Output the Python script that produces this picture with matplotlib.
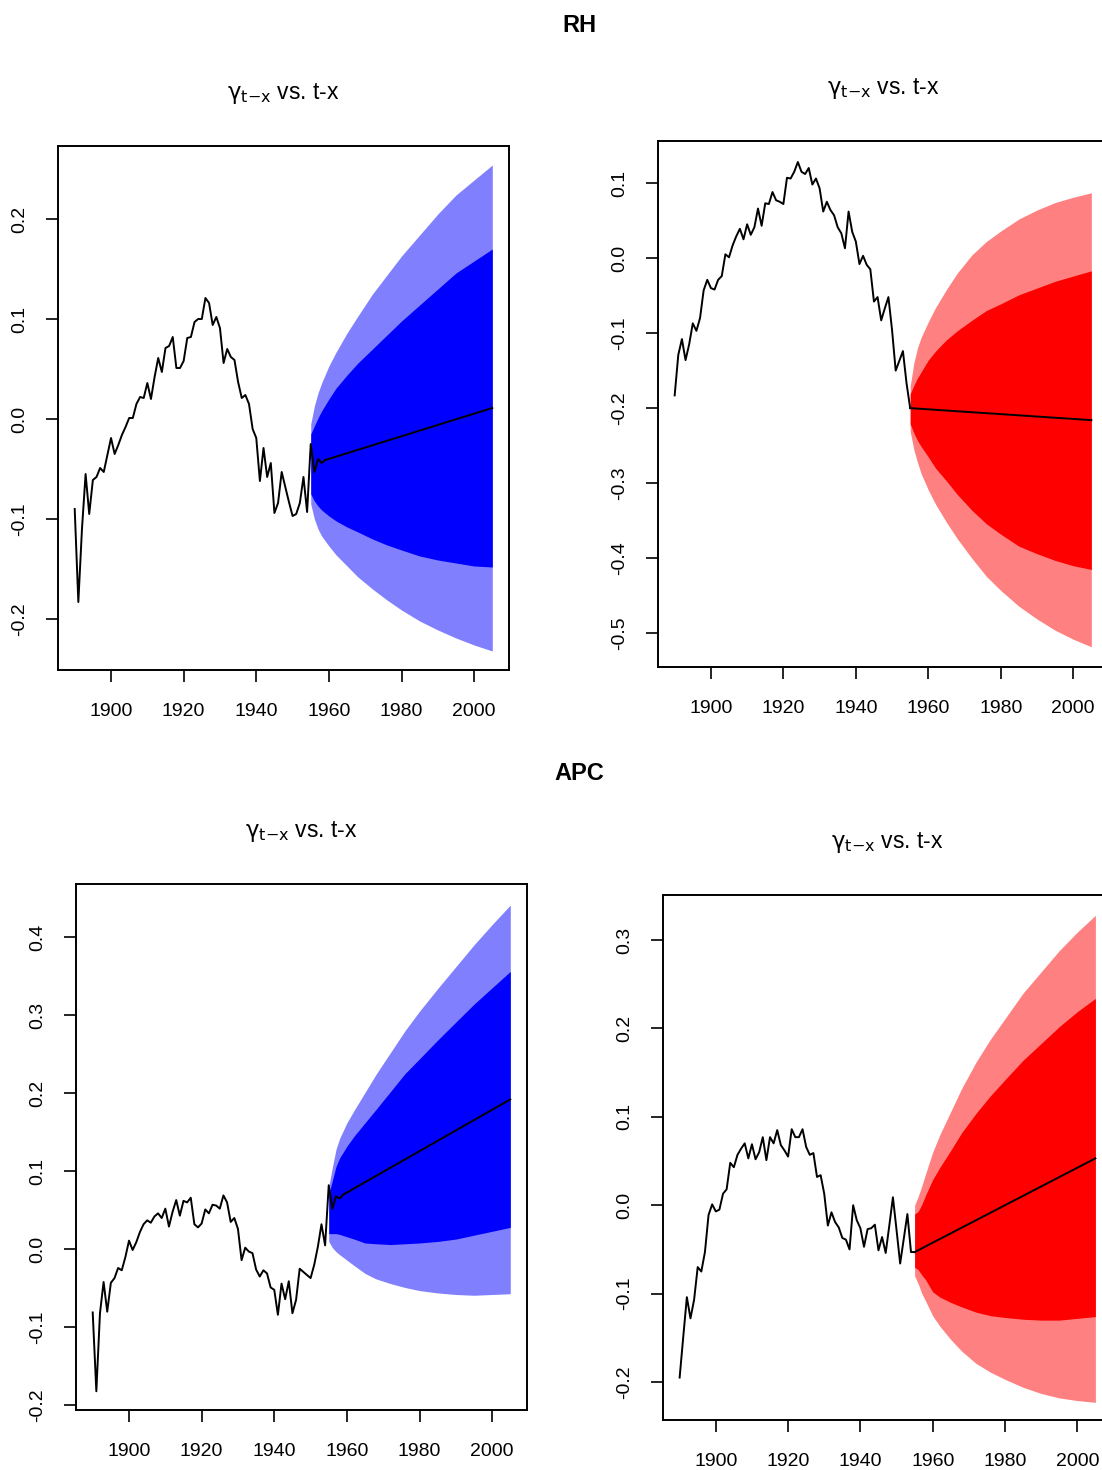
import numpy as np
import matplotlib
matplotlib.use("Agg")
import matplotlib.pyplot as plt

plt.rcParams["font.family"] = ["Liberation Sans", "DejaVu Sans"]
plt.rcParams["mathtext.fontset"] = "custom"
plt.rcParams["mathtext.rm"] = "DejaVu Sans"
plt.rcParams["mathtext.it"] = "DejaVu Sans"

W, H = 1102, 1470

# ---- RH, left panel (blue) ----
rh_l_start = 1890
rh_l_hist = [-0.090, -0.183, -0.110, -0.055, -0.095, -0.061, -0.058, -0.049, -0.053, -0.036,
             -0.019, -0.035, -0.026, -0.016, -0.008, 0.001, 0.001, 0.015, 0.022, 0.021,
             0.036, 0.020, 0.042, 0.061, 0.047, 0.071, 0.073, 0.082, 0.051, 0.051,
             0.058, 0.081, 0.082, 0.097, 0.100, 0.100, 0.121, 0.116, 0.094, 0.102,
             0.091, 0.056, 0.070, 0.062, 0.059, 0.037, 0.021, 0.024, 0.015, -0.010,
             -0.019, -0.062, -0.029, -0.058, -0.044, -0.094, -0.084, -0.053, -0.068, -0.083,
             -0.097, -0.095, -0.084, -0.058, -0.093, -0.025, -0.053, -0.040, -0.044, -0.041]
rh_l_fc_years = [1959, 2005]
rh_l_fc = [-0.041, 0.011]
rh_l_fan_years = [1955, 1956, 1957, 1958, 1960, 1962, 1965, 1968, 1972, 1976, 1980, 1985, 1990, 1995, 2000, 2005]
rh_l_hi95 = [-0.005, 0.013, 0.026, 0.036, 0.053, 0.067, 0.086, 0.103, 0.125, 0.144, 0.163, 0.184, 0.205, 0.224, 0.239, 0.254]
rh_l_lo95 = [-0.085, -0.100, -0.110, -0.117, -0.127, -0.136, -0.147, -0.158, -0.170, -0.181, -0.191, -0.202, -0.211, -0.219, -0.226, -0.232]
rh_l_hi80 = [-0.015, -0.007, 0.001, 0.008, 0.020, 0.031, 0.044, 0.056, 0.070, 0.084, 0.098, 0.114, 0.130, 0.146, 0.158, 0.170]
rh_l_lo80 = [-0.075, -0.082, -0.087, -0.091, -0.097, -0.102, -0.108, -0.113, -0.120, -0.126, -0.131, -0.137, -0.141, -0.144, -0.147, -0.148]

# ---- RH, right panel (red) ----
rh_r_start = 1890
rh_r_hist = [-0.183, -0.129, -0.108, -0.136, -0.115, -0.087, -0.097, -0.080, -0.043, -0.029,
             -0.040, -0.042, -0.029, -0.024, 0.005, 0.001, 0.017, 0.029, 0.039, 0.025,
             0.045, 0.031, 0.041, 0.066, 0.043, 0.073, 0.072, 0.088, 0.077, 0.075,
             0.072, 0.107, 0.106, 0.115, 0.128, 0.115, 0.112, 0.120, 0.098, 0.106,
             0.093, 0.062, 0.075, 0.064, 0.057, 0.041, 0.033, 0.013, 0.062, 0.035,
             0.022, -0.008, 0.003, -0.009, -0.015, -0.058, -0.052, -0.083, -0.067, -0.052,
             -0.096, -0.150, -0.137, -0.124, -0.167, -0.200]
rh_r_fc_years = [1955, 2005]
rh_r_fc = [-0.200, -0.216]
rh_r_fan_years = [1955, 1956, 1957, 1958, 1960, 1962, 1965, 1968, 1972, 1976, 1980, 1985, 1990, 1995, 2000, 2005]
rh_r_hi95 = [-0.171, -0.140, -0.120, -0.106, -0.085, -0.066, -0.042, -0.020, 0.004, 0.022, 0.036, 0.052, 0.064, 0.074, 0.081, 0.087]
rh_r_lo95 = [-0.231, -0.255, -0.272, -0.287, -0.309, -0.328, -0.352, -0.374, -0.400, -0.424, -0.443, -0.464, -0.481, -0.496, -0.508, -0.518]
rh_r_hi80 = [-0.181, -0.170, -0.160, -0.152, -0.136, -0.124, -0.109, -0.097, -0.083, -0.070, -0.061, -0.049, -0.040, -0.031, -0.024, -0.017]
rh_r_lo80 = [-0.221, -0.233, -0.243, -0.251, -0.265, -0.280, -0.297, -0.315, -0.336, -0.354, -0.368, -0.384, -0.394, -0.403, -0.410, -0.415]

# ---- APC, left panel (blue) ----
apc_l_start = 1890
apc_l_hist = [-0.081, -0.182, -0.082, -0.042, -0.080, -0.043, -0.037, -0.024, -0.027, -0.010,
              0.011, -0.001, 0.009, 0.022, 0.032, 0.037, 0.034, 0.042, 0.046, 0.040,
              0.052, 0.029, 0.048, 0.063, 0.043, 0.062, 0.060, 0.066, 0.032, 0.028,
              0.033, 0.051, 0.046, 0.057, 0.056, 0.052, 0.069, 0.060, 0.035, 0.040,
              0.026, -0.014, 0.002, -0.003, -0.005, -0.026, -0.035, -0.027, -0.031, -0.049,
              -0.052, -0.084, -0.044, -0.064, -0.041, -0.082, -0.065, -0.025, -0.029, -0.033,
              -0.037, -0.020, 0.003, 0.032, 0.005, 0.082, 0.052, 0.068, 0.065, 0.070]
apc_l_fc_years = [1959, 2005]
apc_l_fc = [0.070, 0.192]
apc_l_fan_years = [1955, 1956, 1957, 1958, 1960, 1962, 1965, 1968, 1972, 1976, 1980, 1985, 1990, 1995, 2000, 2005]
apc_l_hi95 = [0.080, 0.105, 0.128, 0.142, 0.162, 0.178, 0.201, 0.224, 0.252, 0.280, 0.305, 0.334, 0.362, 0.390, 0.416, 0.441]
apc_l_lo95 = [0.010, 0.002, -0.003, -0.007, -0.014, -0.021, -0.031, -0.038, -0.044, -0.049, -0.053, -0.056, -0.058, -0.059, -0.058, -0.057]
apc_l_hi80 = [0.070, 0.088, 0.106, 0.117, 0.132, 0.145, 0.162, 0.179, 0.202, 0.225, 0.244, 0.268, 0.291, 0.314, 0.335, 0.356]
apc_l_lo80 = [0.020, 0.020, 0.020, 0.019, 0.016, 0.013, 0.008, 0.007, 0.006, 0.007, 0.008, 0.010, 0.013, 0.018, 0.023, 0.028]

# ---- APC, right panel (red) ----
apc_r_start = 1890
apc_r_hist = [-0.195, -0.149, -0.104, -0.128, -0.107, -0.070, -0.075, -0.053, -0.011, 0.001,
              -0.007, -0.005, 0.013, 0.018, 0.048, 0.043, 0.057, 0.064, 0.070, 0.053,
              0.069, 0.052, 0.060, 0.077, 0.051, 0.077, 0.070, 0.085, 0.068, 0.062,
              0.055, 0.086, 0.077, 0.077, 0.086, 0.066, 0.057, 0.059, 0.032, 0.034,
              0.013, -0.023, -0.008, -0.019, -0.025, -0.037, -0.039, -0.050, 0.000, -0.017,
              -0.026, -0.047, -0.027, -0.026, -0.022, -0.051, -0.036, -0.054, -0.023, 0.009,
              -0.028, -0.066, -0.038, -0.010, -0.053, -0.053]
apc_r_fc_years = [1955, 2005]
apc_r_fc = [-0.053, 0.053]
apc_r_fan_years = [1955, 1956, 1957, 1958, 1960, 1962, 1965, 1968, 1972, 1976, 1980, 1985, 1990, 1995, 2000, 2005]
apc_r_hi95 = [0.000, 0.010, 0.022, 0.035, 0.060, 0.080, 0.106, 0.132, 0.162, 0.188, 0.211, 0.240, 0.264, 0.288, 0.309, 0.328]
apc_r_lo95 = [-0.080, -0.089, -0.100, -0.108, -0.125, -0.137, -0.152, -0.165, -0.179, -0.189, -0.197, -0.206, -0.213, -0.218, -0.221, -0.223]
apc_r_hi80 = [-0.010, -0.007, 0.001, 0.011, 0.029, 0.043, 0.062, 0.082, 0.104, 0.124, 0.142, 0.164, 0.183, 0.202, 0.219, 0.234]
apc_r_lo80 = [-0.070, -0.073, -0.079, -0.084, -0.098, -0.104, -0.110, -0.115, -0.121, -0.125, -0.127, -0.129, -0.130, -0.130, -0.128, -0.126]

x_ticks = [1900, 1920, 1940, 1960, 1980, 2000]

BLUE = ("#8080FF", "#0000FF")
RED = ("#FF8080", "#FF0000")


def panel(box, start, hist, fc_years, fc, fan_years, lo95, hi95, lo80, hi80,
          colors, ylim, yticks):
    # box = (left, top, right, bottom) in pixels
    l, t, r, b = box
    ax = fig.add_axes([l / W, 1 - b / H, (r - l) / W, (b - t) / H])

    # fan: 95% band underneath, 80% band on top
    ax.fill_between(fan_years, lo95, hi95, color=colors[0], linewidth=0)
    ax.fill_between(fan_years, lo80, hi80, color=colors[1], linewidth=0)

    years = np.arange(start, start + len(hist))
    ax.plot(years, hist, color="black", lw=1.4)
    ax.plot(fc_years, fc, color="black", lw=1.4)

    ax.set_xlim(1885.4, 2009.6)
    ax.set_ylim(*ylim)
    ax.set_xticks(x_ticks)
    ax.set_xticklabels([str(v) for v in x_ticks])
    ax.set_yticks(yticks)
    ax.set_yticklabels([f"{v:.1f}" for v in yticks], rotation=90, va="center")

    ax.tick_params(direction="out", length=8.5, width=1.2, labelsize=14)
    ax.tick_params(axis="x", pad=15)
    ax.tick_params(axis="y", pad=13)
    for s in ax.spines.values():
        s.set_linewidth(1.4)

    ax.set_title(r"$\mathrm{\gamma_{t{-}x}}$ vs. t-x", fontsize=16.5, pad=34)
    return ax


fig = plt.figure(figsize=(W / 100, H / 100), dpi=100)

fig.text(579 / W, 1 - 26 / H, "RH", ha="center", va="center",
         fontsize=17, fontweight="bold")
fig.text(579 / W, 1 - 773 / H, "APC", ha="center", va="center",
         fontsize=17, fontweight="bold")

panel((58, 146, 509, 670), rh_l_start, rh_l_hist, rh_l_fc_years, rh_l_fc,
      rh_l_fan_years, rh_l_lo95, rh_l_hi95, rh_l_lo80, rh_l_hi80,
      BLUE, (-0.251, 0.273), [-0.2, -0.1, 0.0, 0.1, 0.2])

panel((658, 141, 1108, 667), rh_r_start, rh_r_hist, rh_r_fc_years, rh_r_fc,
      rh_r_fan_years, rh_r_lo95, rh_r_hi95, rh_r_lo80, rh_r_hi80,
      RED, (-0.545, 0.156), [-0.5, -0.4, -0.3, -0.2, -0.1, 0.0, 0.1])

panel((76, 884, 527, 1410), apc_l_start, apc_l_hist, apc_l_fc_years, apc_l_fc,
      apc_l_fan_years, apc_l_lo95, apc_l_hi95, apc_l_lo80, apc_l_hi80,
      BLUE, (-0.206, 0.468), [-0.2, -0.1, 0.0, 0.1, 0.2, 0.3, 0.4])

panel((663, 895, 1112, 1420), apc_r_start, apc_r_hist, apc_r_fc_years, apc_r_fc,
      apc_r_fan_years, apc_r_lo95, apc_r_hi95, apc_r_lo80, apc_r_hi80,
      RED, (-0.243, 0.351), [-0.2, -0.1, 0.0, 0.1, 0.2, 0.3])

plt.savefig("out.png", dpi=100)
